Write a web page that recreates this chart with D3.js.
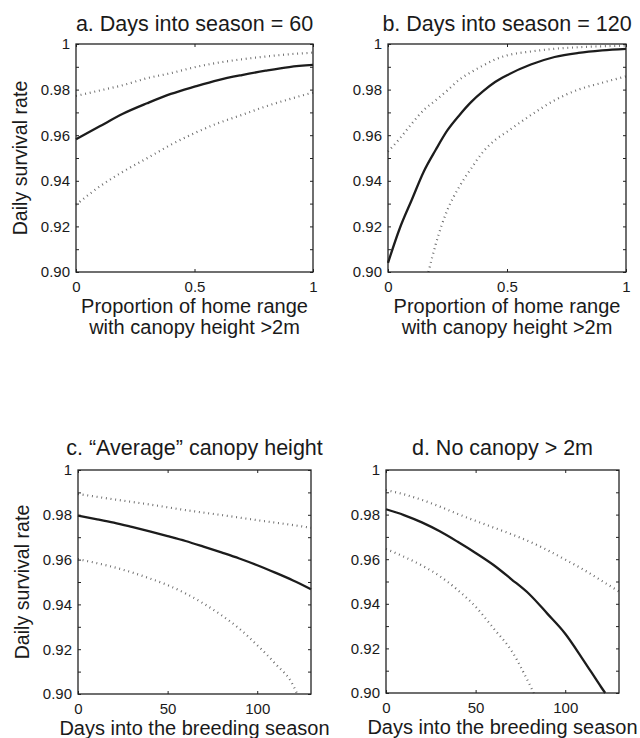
<html>

<head>
	<title>Daily survival rate</title>
	<script src="https://d3js.org/d3.v7.min.js"></script>
	<style>
		body {
			margin: 0;
			background-color: #fff;
		}
		text {
			font-family: "Liberation Sans", Arial, sans-serif;
			fill: #1a1a1a;
		}
	</style>
</head>

<body>
	<div id="chart"></div>
	<script>
		// panels a and b: proportion of home range with canopy > 2m
		let propX = [0, 0.1, 0.2, 0.3, 0.4, 0.5, 0.6, 0.7, 0.8, 0.9, 1];
		let aMid = [0.9582, 0.9639, 0.9695, 0.974, 0.9781, 0.9813, 0.9842, 0.9864, 0.9883, 0.9899, 0.9908];
		let aUpper = [0.9772, 0.9796, 0.982, 0.985, 0.9872, 0.9898, 0.9918, 0.9933, 0.9945, 0.9955, 0.9962];
		let aLower = [0.9295, 0.9375, 0.9441, 0.9499, 0.9558, 0.9609, 0.9653, 0.9689, 0.9726, 0.9758, 0.9787];

		let bX = [0, 0.05, 0.1, 0.15, 0.2, 0.25, 0.3, 0.35, 0.4, 0.45, 0.5, 0.6, 0.7, 0.8, 0.9, 1];
		let bMid = [0.904, 0.9193, 0.9317, 0.944, 0.9535, 0.9622, 0.9688, 0.9746, 0.9793, 0.9833, 0.9863, 0.991, 0.9943, 0.9961, 0.9972, 0.9979];
		let bUpper = [0.9528, 0.9586, 0.9651, 0.971, 0.9753, 0.9797, 0.9844, 0.9877, 0.9906, 0.9932, 0.995, 0.9967, 0.9979, 0.9986, 0.999, 0.9993];
		let bLowerX = [0.17, 0.2, 0.25, 0.3, 0.35, 0.4, 0.45, 0.5, 0.6, 0.7, 0.8, 0.9, 1];
		let bLower = [0.90, 0.912, 0.9273, 0.9375, 0.9455, 0.9528, 0.9579, 0.9615, 0.9688, 0.9753, 0.980, 0.983, 0.9858];

		// panels c and d: days into the breeding season
		let cDays = [0, 10, 20, 30, 40, 50, 60, 70, 80, 90, 100, 110, 120, 130];
		let cMid = [0.9796, 0.9781, 0.9765, 0.9746, 0.9726, 0.9705, 0.9683, 0.9658, 0.9632, 0.9605, 0.9575, 0.9542, 0.9507, 0.9468];
		let cUpperDays = [0, 20, 40, 60, 80, 100, 120, 130];
		let cUpper = [0.9893, 0.9869, 0.9846, 0.9821, 0.9799, 0.9776, 0.9754, 0.9742];
		let cLowerDays = [0, 10, 20, 30, 40, 50, 60, 70, 80, 90, 100, 110, 120, 122.3];
		let cLower = [0.9602, 0.9585, 0.9566, 0.9543, 0.9516, 0.9486, 0.9449, 0.9404, 0.9352, 0.9292, 0.9218, 0.9136, 0.9039, 0.90];

		let dMidDays = [0, 10, 20, 30, 40, 50, 60, 70, 80, 90, 100, 110, 120, 122.3];
		let dMid = [0.9824, 0.9798, 0.9765, 0.9725, 0.9678, 0.9628, 0.9574, 0.951, 0.9443, 0.9356, 0.9266, 0.9149, 0.9027, 0.90];
		let dUpperDays = [0, 10, 20, 30, 40, 50, 60, 70, 80, 90, 100, 110, 120, 130];
		let dUpper = [0.991, 0.9891, 0.9866, 0.9836, 0.9803, 0.9772, 0.9742, 0.9712, 0.9679, 0.9641, 0.9598, 0.9554, 0.9505, 0.9455];
		let dLowerDays = [0, 10, 20, 30, 40, 50, 60, 70, 80, 82.5];
		let dLower = [0.9646, 0.9611, 0.9572, 0.9524, 0.9462, 0.9387, 0.929, 0.919, 0.904, 0.90];

		// axes
		let yMinor = d3.range(90, 101).map(d => d / 100);
		let yTicks = [0.90, 0.92, 0.94, 0.96, 0.98, 1];
		let yTickLabels = ["0.90", "0.92", "0.94", "0.96", "0.98", "1"];
		let propTicks = [0, 0.5, 1];
		let propTickLabels = ["0", "0.5", "1"];
		let dayTicks = [0, 50, 100];
		let dayTickLabels = ["0", "50", "100"];

		let panels = [{
				title: "a. Days into season = 60",
				box: [76, 44, 313, 272],
				titleY: 31,
				xDomain: [0, 1],
				xTicks: propTicks,
				xTickLabels: propTickLabels,
				xTitle: ["Proportion of home range", "with canopy height >2m"],
				yTitle: true,
				series: [
					[propX, aUpper, "dot"],
					[propX, aLower, "dot"],
					[propX, aMid, "solid"]
				]
			},
			{
				title: "b. Days into season = 120",
				box: [388, 44, 626, 272],
				titleY: 31,
				xDomain: [0, 1],
				xTicks: propTicks,
				xTickLabels: propTickLabels,
				xTitle: ["Proportion of home range", "with canopy height >2m"],
				yTitle: false,
				series: [
					[bX, bUpper, "dot"],
					[bLowerX, bLower, "dot"],
					[bX, bMid, "solid"]
				]
			},
			{
				title: "c. \u201cAverage\u201d canopy height",
				box: [78, 470, 311, 694],
				titleY: 455,
				xDomain: [0, 130],
				xTicks: dayTicks,
				xTickLabels: dayTickLabels,
				xTitle: ["Days into the breeding season"],
				yTitle: true,
				series: [
					[cUpperDays, cUpper, "dot"],
					[cLowerDays, cLower, "dot"],
					[cDays, cMid, "solid"]
				]
			},
			{
				title: "d. No canopy > 2m",
				box: [386, 470, 619, 693],
				titleY: 455,
				xDomain: [0, 130],
				xTicks: dayTicks,
				xTickLabels: dayTickLabels,
				xTitle: ["Days into the breeding season"],
				yTitle: false,
				series: [
					[dUpperDays, dUpper, "dot"],
					[dLowerDays, dLower, "dot"],
					[dMidDays, dMid, "solid"]
				]
			}
		];

		let svg = d3.select("#chart").append("svg")
			.attr("width", 640)
			.attr("height", 738);

		panels.forEach(function (p) {
			let w = p.box[2] - p.box[0];
			let h = p.box[3] - p.box[1];
			let g = svg.append("g").attr("transform", "translate(" + p.box[0] + "," + p.box[1] + ")");

			let x = d3.scaleLinear().domain(p.xDomain).range([0, w]);
			let y = d3.scaleLinear().domain([0.90, 1]).range([h, 0]);

			// inward ticks on all four sides
			let styleAxis = function (sel) {
				sel.select(".domain").remove();
				sel.attr("color", "#222").attr("font-size", 15);
				sel.selectAll("line").attr("stroke-width", 1);
			};
			g.append("g")
				.call(d3.axisLeft(y).tickValues(yMinor).tickSize(-3).tickPadding(6)
					.tickFormat(function (d) {
						let i = yTicks.findIndex(t => Math.abs(t - d) < 1e-6);
						return i >= 0 ? yTickLabels[i] : "";
					}))
				.call(styleAxis);
			g.append("g").attr("transform", "translate(" + w + ",0)")
				.call(d3.axisRight(y).tickValues(yMinor).tickSize(-3).tickFormat(""))
				.call(styleAxis);
			g.append("g").attr("transform", "translate(0," + h + ")")
				.call(d3.axisBottom(x).tickValues(p.xTicks).tickSize(-3).tickPadding(9)
					.tickFormat((d, i) => p.xTickLabels[i]))
				.call(styleAxis);
			g.append("g")
				.call(d3.axisTop(x).tickValues(p.xTicks).tickSize(-3).tickFormat(""))
				.call(styleAxis);

			let line = d3.line()
				.x(d => x(d[0]))
				.y(d => y(d[1]))
				.curve(d3.curveMonotoneX);

			p.series.forEach(function (s) {
				let pts = s[0].map((v, i) => [v, s[1][i]]);
				g.append("path")
					.attr("d", line(pts))
					.attr("fill", "none")
					.attr("stroke", s[2] == "solid" ? "#1c1c1c" : "#666")
					.attr("stroke-width", s[2] == "solid" ? 2.3 : 2.2)
					.attr("stroke-dasharray", s[2] == "solid" ? null : "0.9,3.8");
			});

			g.append("rect")
				.attr("width", w)
				.attr("height", h)
				.attr("fill", "none")
				.attr("stroke", "#222")
				.attr("stroke-width", 1.3);

			g.append("text")
				.attr("x", w / 2)
				.attr("y", p.titleY - p.box[1])
				.attr("text-anchor", "middle")
				.attr("font-size", 21.5)
				.text(p.title);

			p.xTitle.forEach(function (t, i) {
				g.append("text")
					.attr("x", w / 2)
					.attr("y", h + 41 + i * 21)
					.attr("text-anchor", "middle")
					.attr("font-size", 20)
					.text(t);
			});

			if (p.yTitle) {
				g.append("text")
					.attr("transform", "translate(-49," + (h / 2) + ") rotate(-90)")
					.attr("text-anchor", "middle")
					.attr("font-size", 19.6)
					.text("Daily survival rate");
			}
		});
	</script>
</body>

</html>
